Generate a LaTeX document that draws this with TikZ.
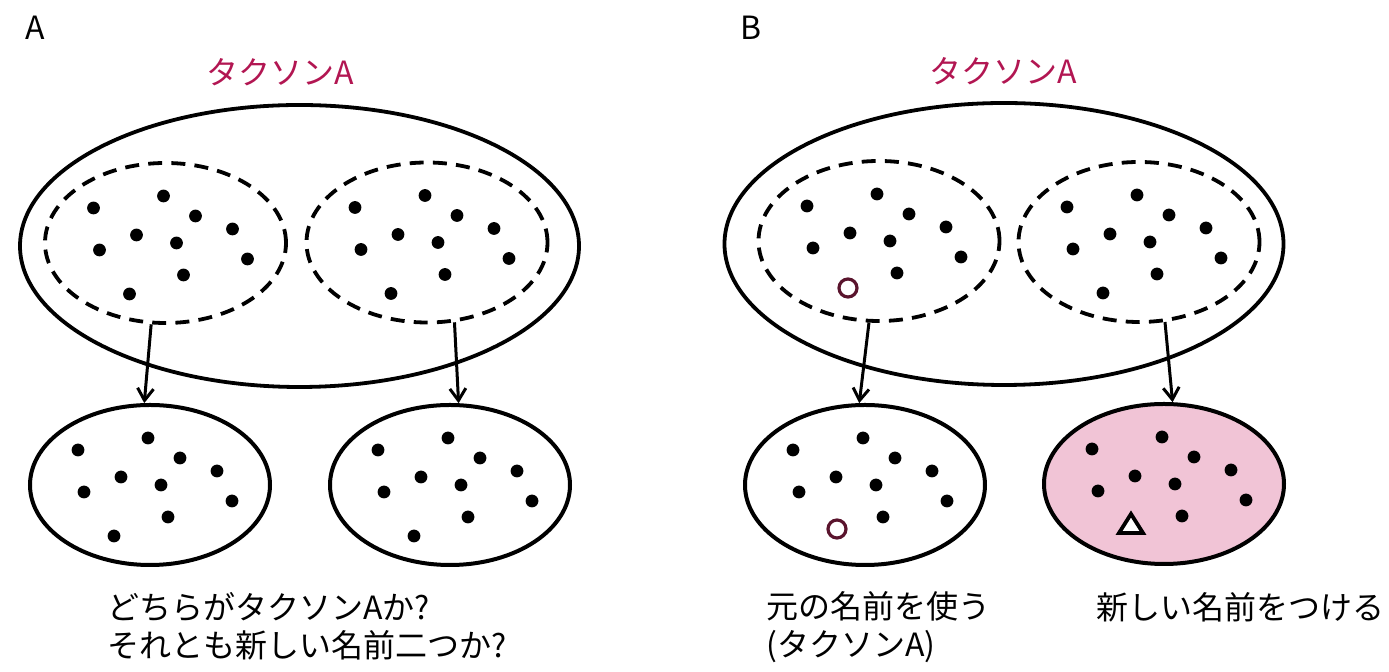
\documentclass[tikz,border=0pt]{standalone}
\usepackage{fontspec}
\setmainfont{Noto Sans CJK JP}
\usetikzlibrary{shapes.geometric,arrows.meta}
\definecolor{taxred}{RGB}{178,22,82}
\definecolor{pinkfill}{RGB}{241,196,214}
\definecolor{ringcol}{RGB}{90,20,45}
\def\patnine{(-72,-35),(-2,-47),(30,-27),(67,-14),(-29,-8),(11,0),(-66,7),(82,16),(18,32)}
\begin{document}
\begin{tikzpicture}[x=0.5pt,y=-0.5pt,
  bigell/.style={ellipse, draw, line width=1.9pt, inner sep=0, minimum width=279.5pt, minimum height=141pt},
  subell/.style={ellipse, draw, line width=1.9pt, dash pattern=on 7pt off 4.6pt, inner sep=0, minimum width=120.5pt, minimum height=80pt},
  outell/.style={ellipse, draw, line width=2pt, inner sep=0, minimum width=120pt, minimum height=80pt},
  arr/.style={line width=1.5pt, -{Straight Barb[length=6pt,width=8pt,line width=1.5pt]}},
  lbl/.style={inner sep=0, font=\fontsize{16}{19}\selectfont, text height=14pt, text depth=2pt},
  txt/.style={inner sep=0, align=left, font=\fontsize{16}{19}\selectfont},
  ring/.style={draw=ringcol, line width=1.6pt, fill=white},
  tri/.style={draw, line width=1.9pt, fill=white, line join=miter}]
\useasboundingbox (0,0) rectangle (1389,672);
% ---------- Panel A ----------
\node[lbl, anchor=west] (labA) at (25,28) {A};
\node[lbl, text=taxred, anchor=west] (tA) at (206,73) {タクソンA};
\node[bigell] (bigA) at (299.5,246) {};
\node[subell] (dA1) at (165.5,243) {};
\node[subell] (dA2) at (427,242.5) {};
\node[outell] (eA1) at (150,485) {};
\node[outell] (eA2) at (450,485) {};
\begin{scope}[shift={(dA1.center)}]
  \foreach \p in \patnine \fill \p circle[radius=3.2pt];
  \fill (-36,51) circle[radius=3.2pt];
\end{scope}
\begin{scope}[shift={(dA2.center)}]
  \foreach \p in \patnine \fill \p circle[radius=3.2pt];
  \fill (-36,51) circle[radius=3.2pt];
\end{scope}
\begin{scope}[shift={(eA1.center)}]
  \foreach \p in \patnine \fill \p circle[radius=3.2pt];
  \fill (-36,51) circle[radius=3.2pt];
\end{scope}
\begin{scope}[shift={(eA2.center)}]
  \foreach \p in \patnine \fill \p circle[radius=3.2pt];
  \fill (-36,51) circle[radius=3.2pt];
\end{scope}
\draw[arr] (dA1.260) -- (eA1.94);
\draw[arr] (dA2.289) -- (eA2.84);
\node[txt, anchor=west] (qA) at (107,626) {どちらがタクソンAか?\\それとも新しい名前二つか?};
% ---------- Panel B ----------
\node[lbl, anchor=west] (labB) at (740,28) {B};
\node[lbl, text=taxred, anchor=west] (tB) at (929,72) {タクソンA};
\node[bigell] (bigB) at (1004,244) {};
\node[subell] (dB1) at (879,241) {};
\node[subell] (dB2) at (1139,242) {};
\node[outell] (eB1) at (865,485) {};
\node[outell, fill=pinkfill] (eB2) at (1164,484) {};
\begin{scope}[shift={(dB1.center)}]
  \foreach \p in \patnine \fill \p circle[radius=3.2pt];
  \draw[ring] (-31,47) circle[radius=4.5pt];
\end{scope}
\begin{scope}[shift={(dB2.center)}]
  \foreach \p in \patnine \fill \p circle[radius=3.2pt];
  \fill (-36,51) circle[radius=3.2pt];
\end{scope}
\begin{scope}[shift={(eB1.center)}]
  \foreach \p in \patnine \fill \p circle[radius=3.2pt];
  \draw[ring] (-28,44) circle[radius=4.5pt];
\end{scope}
\begin{scope}[shift={(eB2.center)}]
  \foreach \p in \patnine \fill \p circle[radius=3.2pt];
  \draw[tri] (-33,30) -- (-45,49) -- (-21,49) -- cycle;
\end{scope}
\draw[arr] (dB1.263) -- (eB1.94);
\draw[arr] (dB2.288) -- (eB2.84);
\node[txt, anchor=west] (qB1) at (766,627) {元の名前を使う\\(タクソンA)};
\node[lbl, anchor=west] (qB2) at (1096,608) {新しい名前をつける};
\end{tikzpicture}
\end{document}
